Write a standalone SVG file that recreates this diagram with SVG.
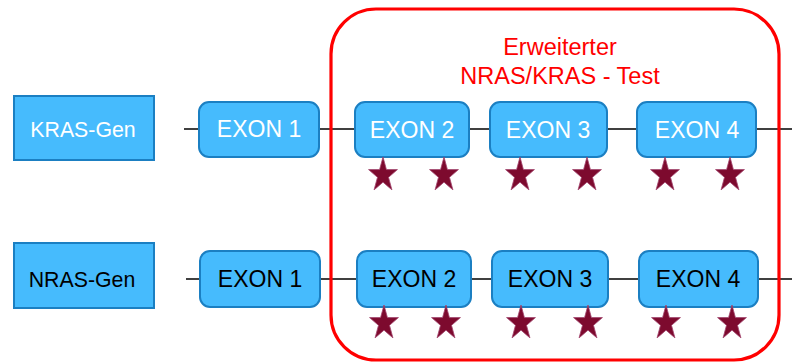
<svg xmlns="http://www.w3.org/2000/svg" width="792" height="363" viewBox="0 0 792 363">
<style>
.gene{fill:#46bbfd;stroke:#1b7fc2;stroke-width:2}
.exon{fill:#46bbfd;stroke:#1b7fc2;stroke-width:2}
.t{font-family:"Liberation Sans",Arial,sans-serif;text-anchor:middle}
.w{fill:#ffffff}
.b{fill:#000000}
.line{stroke:#000;stroke-width:1.6;fill:none}
.star{fill:#7d0a2e;stroke:#a3466e;stroke-width:0.8}
</style>
<defs>
<polygon id="star" points="0,0 3.41,12.58 14.46,12.58 5.52,20.35 8.94,32.92 0,25.15 -8.94,32.92 -5.52,20.35 -14.46,12.58 -3.41,12.58"/>
</defs>
<g id="connectors">
<line class="line" x1="184" y1="129" x2="792" y2="129"/>
<line class="line" x1="186" y1="279" x2="792" y2="279"/>
</g>
<g id="test-region">
<rect x="331" y="9" width="448" height="351" rx="45" ry="45" fill="none" stroke="#ff0000" stroke-width="3.2"/>
<text class="t" x="560" y="55" font-size="23.5" fill="#ff0000">Erweiterter</text>
<text class="t" x="560" y="84" font-size="23.5" fill="#ff0000">NRAS/KRAS - Test</text>
</g>
<g id="kras-gen"><rect class="gene" x="14" y="96" width="140" height="64"/><text class="t w" x="83" y="137" font-size="21.3">KRAS-Gen</text></g>
<g id="kras-exon1"><rect class="exon" x="199" y="102" width="120" height="55" rx="10"/><text class="t w" x="259" y="137" font-size="23">EXON 1</text></g>
<g id="kras-exon2"><rect class="exon" x="355" y="102" width="114" height="55" rx="10"/><text class="t w" x="412" y="138" font-size="23">EXON 2</text></g>
<g id="kras-exon3"><rect class="exon" x="490" y="102" width="117" height="55" rx="10"/><text class="t w" x="548" y="138" font-size="23">EXON 3</text></g>
<g id="kras-exon4"><rect class="exon" x="637" y="102" width="119" height="55" rx="10"/><text class="t w" x="697" y="138" font-size="23">EXON 4</text></g>
<g id="nras-gen"><rect class="gene" x="14" y="243" width="140" height="65"/><text class="t b" x="82" y="287" font-size="21.3">NRAS-Gen</text></g>
<g id="nras-exon1"><rect class="exon" x="200" y="251" width="120" height="56" rx="10"/><text class="t b" x="260" y="287" font-size="23">EXON 1</text></g>
<g id="nras-exon2"><rect class="exon" x="357" y="251" width="114" height="56" rx="10"/><text class="t b" x="414" y="287" font-size="23">EXON 2</text></g>
<g id="nras-exon3"><rect class="exon" x="492" y="251" width="116" height="56" rx="10"/><text class="t b" x="550" y="287" font-size="23">EXON 3</text></g>
<g id="nras-exon4"><rect class="exon" x="639" y="251" width="119" height="56" rx="10"/><text class="t b" x="698" y="287" font-size="23">EXON 4</text></g>
<g id="stars">
<use href="#star" class="star" x="383" y="157"/>
<use href="#star" class="star" x="444" y="157"/>
<use href="#star" class="star" x="520" y="157"/>
<use href="#star" class="star" x="587" y="157"/>
<use href="#star" class="star" x="665" y="157"/>
<use href="#star" class="star" x="730" y="157"/>
<use href="#star" class="star" x="384" y="305"/>
<use href="#star" class="star" x="446" y="305"/>
<use href="#star" class="star" x="521" y="305"/>
<use href="#star" class="star" x="588" y="305"/>
<use href="#star" class="star" x="666" y="305"/>
<use href="#star" class="star" x="732" y="305"/>
</g>
</svg>
